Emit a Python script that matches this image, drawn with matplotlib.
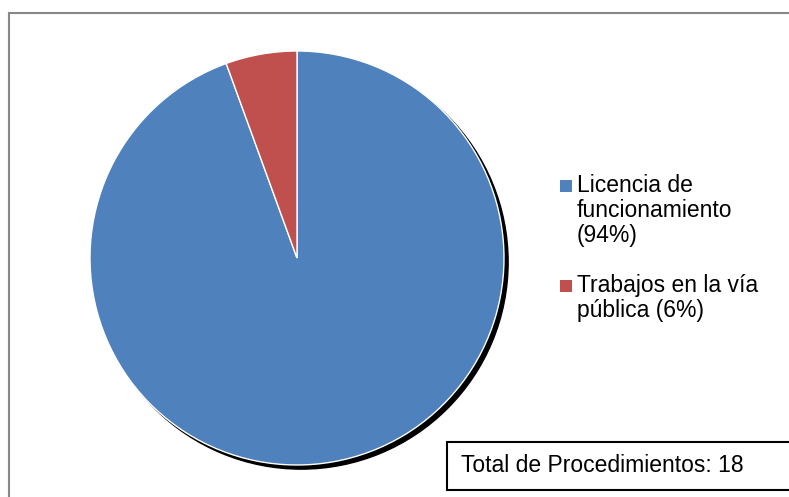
import matplotlib.pyplot as plt
from matplotlib.patches import Circle, Rectangle
from matplotlib.lines import Line2D

plt.rcParams['font.family'] = ['Liberation Sans', 'DejaVu Sans']

categorias = ["Licencia de\nfuncionamiento\n(94%)", "Trabajos en la vía\npública (6%)"]
procedimientos = [17, 1]
colores = ["#4F81BD", "#C0504D"]
total = 18

W, H = 789, 497
fig = plt.figure(figsize=(W / 100, H / 100), dpi=100)


def px(x, y):
    # pixel (desde arriba a la izquierda) -> fraccion de figura
    return x / W, 1 - y / H


# pastel: centro (297, 258), radio 207 px
cx, cy, r = 297, 258, 207
half = 230
ax = fig.add_axes([(cx - half) / W, (H - cy - half) / H, 2 * half / W, 2 * half / H])
lim = half / r
ax.set_xlim(-lim, lim)
ax.set_ylim(-lim, lim)
ax.axis("off")

sombra = Circle((0.02, -0.02), 1.0, color="black", zorder=0)
ax.add_patch(sombra)
ax.pie(procedimientos, colors=colores, startangle=90, counterclock=False,
       radius=1.0, wedgeprops=dict(edgecolor="white", linewidth=1.0))
ax.set_xlim(-lim, lim)
ax.set_ylim(-lim, lim)

# leyenda manual
fs = 16.5
filas_y = [186, 286]
for cat, col, y in zip(categorias, colores, filas_y):
    x0, y0 = px(560, y - 6)
    fig.patches.append(Rectangle((x0, y0 - 12 / H), 12 / W, 12 / H, transform=fig.transFigure,
                                 facecolor=col, edgecolor="none"))
    tx, ty = px(577, y - 12)
    fig.text(tx, ty, cat, fontsize=fs, va="top", ha="left", linespacing=1.12)

# recuadro del total
bx, by = px(447, 490)
fig.patches.append(Rectangle((bx, by), (W + 5 - 447) / W, 48 / H, transform=fig.transFigure,
                             facecolor="white", edgecolor="black", linewidth=1.5))
tx, ty = px(461, 466)
fig.text(tx, ty, f"Total de Procedimientos: {total}", fontsize=fs, va="center", ha="left")

# borde del grafico
fig.lines.append(Line2D([8.5 / W, 8.5 / W], [0, 1 - 12.5 / H], transform=fig.transFigure,
                        color="#888888", linewidth=1.5))
fig.lines.append(Line2D([8.5 / W, 1], [1 - 12.5 / H, 1 - 12.5 / H], transform=fig.transFigure,
                        color="#888888", linewidth=1.5))

fig.savefig("out.png", dpi=100)
